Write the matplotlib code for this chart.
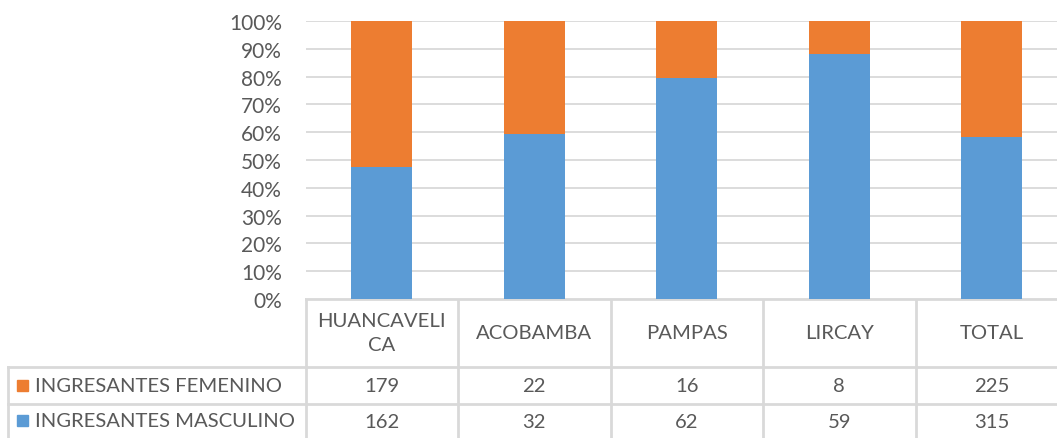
import matplotlib.pyplot as plt
import numpy as np
from matplotlib.ticker import PercentFormatter

categorias = ['HUANCAVELI\nCA', 'ACOBAMBA', 'PAMPAS', 'LIRCAY', 'TOTAL']
femenino = [179, 22, 16, 8, 225]
masculino = [162, 32, 62, 59, 315]
series = ['INGRESANTES FEMENINO', 'INGRESANTES MASCULINO']

naranja = '#ED7D31'
azul = '#5B9BD5'
gris = '#595959'
linea = '#D9D9D9'

plt.rcParams['font.family'] = ['Lato', 'DejaVu Sans']

W, H = 1057, 439
fig = plt.figure(figsize=(W / 100, H / 100), dpi=100)

# plot area in pixels
x0, colw = 305.5, 152.5
y_top, y_bot = 22, 300
ncol = len(categorias)
ax = fig.add_axes([x0 / W, (H - y_bot) / H, ncol * colw / W, (y_bot - y_top) / H])

fem = np.array(femenino, float)
mas = np.array(masculino, float)
tot = fem + mas
pm = mas / tot * 100
pf = fem / tot * 100
x = np.arange(ncol)
ax.bar(x, pm, width=0.4, color=azul, zorder=3)
ax.bar(x, pf, bottom=pm, width=0.4, color=naranja, zorder=3)

ax.set_xlim(-0.5, ncol - 0.5)
ax.set_ylim(0, 100)
ax.set_yticks(np.arange(0, 101, 10))
ax.yaxis.set_major_formatter(PercentFormatter(decimals=0))
ax.tick_params(axis='y', length=0, labelsize=15, labelcolor=gris, pad=17)
ax.set_xticks([])
ax.grid(axis='y', color=linea, linewidth=1.3, zorder=0)
for s in ax.spines.values():
    s.set_visible(False)

# data table drawn underneath
t = fig.add_axes([0, 0, 1, 1], zorder=-1)
t.set_xlim(0, W)
t.set_ylim(H, 0)
t.axis('off')
r0, r1, r2, r3 = 300, 368, 405, 445
xl = 8
xr = x0 + ncol * colw
lw = 2
t.plot([x0, xr], [r0, r0], color=linea, lw=lw)
t.plot([xl, xr], [r1, r1], color=linea, lw=lw)
t.plot([xl, xr], [r2, r2], color=linea, lw=lw)
t.plot([xl, xl], [r1, r3], color=linea, lw=lw)
for i in range(ncol + 1):
    t.plot([x0 + i * colw] * 2, [r0, r3], color=linea, lw=lw)

fs = 14.6
for i, c in enumerate(categorias):
    cx = x0 + (i + 0.5) * colw
    t.text(cx, (r0 + r1) / 2, c, ha='center', va='center', fontsize=fs, color=gris, linespacing=1.5)
    t.text(cx, (r1 + r2) / 2, str(femenino[i]), ha='center', va='center', fontsize=fs, color=gris)
    t.text(cx, (r2 + 439) / 2 + 1, str(masculino[i]), ha='center', va='center', fontsize=fs, color=gris)

for (ya, yb), nombre, col in [((r1, r2), series[0], naranja), ((r2, 439), series[1], azul)]:
    ym = (ya + yb) / 2
    t.add_patch(plt.Rectangle((17, ym - 5.5), 11, 11, color=col))
    t.text(35, ym, nombre, ha='left', va='center', fontsize=fs, color=gris)

plt.savefig('out.png', dpi=100)
